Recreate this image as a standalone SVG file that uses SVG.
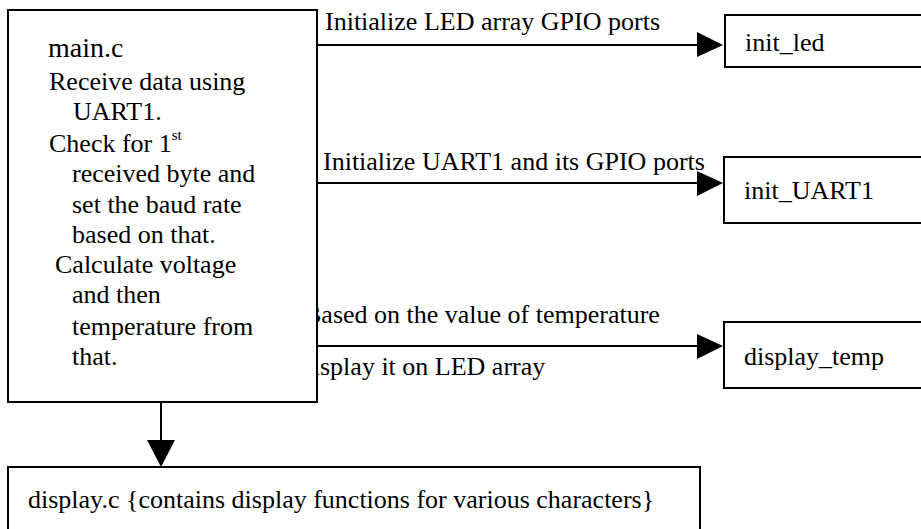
<svg xmlns="http://www.w3.org/2000/svg" width="921" height="529" viewBox="0 0 921 529">
<style>
text{font-family:"Liberation Serif","Times New Roman",serif;font-size:26px;fill:#000}
.box{fill:#fff;stroke:#000;stroke-width:2}
.ln{stroke:#000;stroke-width:2;fill:none}
.hd{fill:#000}
</style>
<rect width="921" height="529" fill="#fff"/>
<g id="connectors">
<line class="ln" x1="317" y1="45" x2="700" y2="45"/>
<polygon class="hd" points="697,32 723,45 697,57"/>
<text x="325" y="30">Initialize LED array GPIO ports</text>
<line class="ln" x1="317" y1="183" x2="700" y2="183"/>
<polygon class="hd" points="697,171 723,183 697,196"/>
<text x="323" y="170">Initialize UART1 and its GPIO ports</text>
<line class="ln" x1="317" y1="346" x2="700" y2="346"/>
<polygon class="hd" points="697,334 723,346 697,359"/>
<text x="304" y="323">Based on the value of temperature</text>
<text x="294" y="375">Display it on LED array</text>
<line class="ln" x1="161" y1="402" x2="161" y2="442"/>
<polygon class="hd" points="147,440 175,440 161,467"/>
</g>
<g id="main">
<rect class="box" x="8" y="10" width="309" height="392"/>
<text x="48" y="57" style="font-size:28px">main.c</text>
<text x="49" y="90">Receive data using</text>
<text x="73" y="120">UART1.</text>
<text x="49" y="152">Check for 1<tspan dy="-12" style="font-size:15px">st</tspan></text>
<text x="72" y="182">received byte and</text>
<text x="72" y="213">set the baud rate</text>
<text x="72" y="243">based on that.</text>
<text x="55" y="273">Calculate voltage</text>
<text x="72" y="303">and then</text>
<text x="72" y="335">temperature from</text>
<text x="72" y="365">that.</text>
</g>
<g id="init_led">
<rect class="box" x="725" y="15" width="210" height="52"/>
<text x="745" y="51">init_led</text>
</g>
<g id="init_UART1">
<rect class="box" x="724" y="157" width="210" height="66"/>
<text x="744" y="199">init_UART1</text>
</g>
<g id="display_temp">
<rect class="box" x="724" y="322" width="210" height="66"/>
<text x="744" y="365">display_temp</text>
</g>
<g id="display_c">
<rect class="box" x="8" y="467" width="692" height="80"/>
<text x="28" y="508">display.c {contains display functions for various characters}</text>
</g>
</svg>
